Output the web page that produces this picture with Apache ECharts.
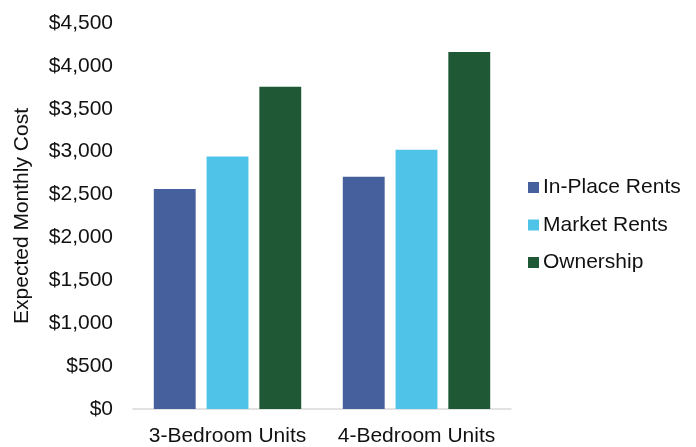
<!DOCTYPE html>
<html>
<head>
<meta charset="utf-8">
<script src="https://cdn.jsdelivr.net/npm/echarts@6/dist/echarts.min.js"></script>
<style>
    html, body { margin: 0; padding: 0; background: #fff; }
    #chart { width: 696px; height: 447px; }
</style>
</head>
<body>
<div id="chart"></div>
<script>
var categories = ['3-Bedroom Units', '4-Bedroom Units'];
var seriesNames = ['In-Place Rents', 'Market Rents', 'Ownership'];
var inPlaceRents = [2565, 2707];
var marketRents = [2945, 3021];
var ownership = [3756, 4163];
var yTicks = [0, 500, 1000, 1500, 2000, 2500, 3000, 3500, 4000, 4500];

var colors = ['#46609D', '#4FC3E8', '#1F5835'];
var font = 'Liberation Sans, Arial, sans-serif';

function money(v){
    return '$' + String(v).replace(/\B(?=(\d{3})+(?!\d))/g, ',');
}

var chart = echarts.init(document.getElementById('chart'));
var option = {
    animation: false,
    color: colors,
    textStyle: { fontFamily: font },
    grid: {
        left: 133,
        right: 185,
        top: 23,
        bottom: 33
    },
    legend: {
        orient: 'vertical',
        left: 523,
        top: 172,
        itemWidth: 11,
        itemHeight: 11,
        itemGap: 16.5,
        icon: 'rect',
        textStyle: { fontSize: 21, color: '#111', padding: [0, 0, 0, -1] },
        data: seriesNames
    },
    xAxis: {
        type: 'category',
        data: categories,
        axisTick: { show: false },
        axisLine: { lineStyle: { color: '#D9D9D9', width: 1.5 } },
        axisLabel: { fontSize: 21, color: '#111', margin: 17, interval: 0 }
    },
    yAxis: {
        type: 'value',
        min: yTicks[0],
        max: yTicks[yTicks.length - 1],
        interval: 500,
        splitLine: { show: false },
        axisLine: { show: false },
        axisTick: { show: false },
        axisLabel: {
            fontSize: 21,
            color: '#111',
            margin: 20,
            formatter: money
        },
        name: 'Expected Monthly Cost',
        nameLocation: 'middle',
        nameGap: 100,
        nameTextStyle: { fontSize: 21, color: '#111' }
    },
    series: [
        { name: seriesNames[0], type: 'bar', data: inPlaceRents, barGap: '26%', barCategoryGap: '22%' },
        { name: seriesNames[1], type: 'bar', data: marketRents },
        { name: seriesNames[2], type: 'bar', data: ownership }
    ]
};
chart.setOption(option);
</script>
</body>
</html>
